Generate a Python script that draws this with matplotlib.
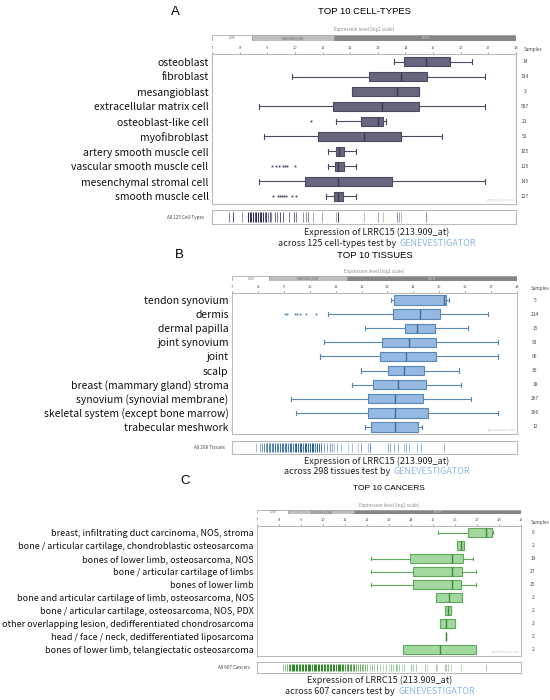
import matplotlib.pyplot as plt
from matplotlib.colors import to_rgba
from matplotlib.transforms import blended_transform_factory

plt.rcParams['font.family'] = ['Noto Sans CJK SC', 'DejaVu Sans']
HEAD = ['Liberation Sans', 'DejaVu Sans']

W, H = 550, 700
LOW_END, MED_END = 8.43, 11.43

# ---------- A: cell types ----------
cell_labels = ['osteoblast', 'fibroblast', 'mesangioblast', 'extracellular matrix cell',
               'osteoblast-like cell', 'myofibroblast', 'artery smooth muscle cell',
               'vascular smooth muscle cell', 'mesenchymal stromal cell', 'smooth muscle cell']
cell_n = [14, 314, 3, 587, 21, 52, 105, 115, 145, 127]
cell_lo = [13.59, 9.90, 12.05, 8.70, 11.50, 8.89, 11.20, 11.20, 8.70, 11.14]
cell_q1 = [13.94, 12.68, 12.05, 11.38, 12.38, 10.82, 11.48, 11.46, 10.38, 11.40]
cell_med = [14.76, 13.83, 13.71, 13.16, 13.02, 12.50, 11.60, 11.55, 11.56, 11.56]
cell_q3 = [15.62, 14.79, 14.50, 14.50, 13.18, 13.83, 11.76, 11.76, 13.51, 11.74]
cell_hi = [16.42, 16.88, 14.50, 16.88, 13.28, 15.34, 12.22, 12.21, 16.88, 12.22]
cell_out = [[], [], [], [], [10.58], [], [],
            [9.18, 9.30, 9.42, 9.57, 9.64, 9.71, 10.02], [],
            [9.21, 9.40, 9.47, 9.54, 9.61, 9.68, 9.91, 10.03]]
cell_strip = [7.62, 7.76, 8.09, 8.30, 8.36, 8.42, 8.48, 8.54, 8.60, 8.66, 8.72, 8.79, 8.85,
              8.91, 8.97, 9.03, 9.10, 9.15, 9.27, 9.35, 9.45, 9.57, 9.79, 9.96, 10.05, 10.29,
              10.41, 10.47, 10.65, 10.99, 11.50, 11.56, 12.50, 13.01, 13.18, 13.71, 13.77,
              13.83, 14.73]
cell_strip_w = [0.6, 0.8, 0.5, 1, 1, 0.9, 1, 0.8, 1, 1, 0.9, 1, 1,
                0.7, 0.9, 0.6, 0.8, 0.5, 0.7, 0.6, 0.8, 0.7, 0.6, 0.7, 0.6, 0.5,
                0.5, 0.6, 0.4, 0.4, 0.4, 0.9, 0.3, 0.4, 0.3, 0.5, 0.4,
                0.3, 0.5]

# ---------- B: tissues ----------
tis_labels = ['tendon synovium', 'dermis', 'dermal papilla', 'joint synovium', 'joint', 'scalp',
              'breast (mammary gland) stroma', 'synovium (synovial membrane)',
              'skeletal system (except bone marrow)', 'trabecular meshwork']
tis_n = [5, 214, 15, 93, 96, 36, 18, 267, 166, 12]
tis_lo = [13.14, 10.70, 12.12, 10.57, 10.38, 11.96, 11.63, 9.26, 9.46, 12.15]
tis_q1 = [13.25, 13.23, 13.66, 12.78, 12.72, 13.04, 12.45, 12.26, 12.26, 12.35]
tis_med = [15.20, 14.27, 14.15, 13.83, 13.72, 13.63, 13.41, 13.30, 13.30, 13.29]
tis_q3 = [15.25, 15.01, 14.84, 14.88, 14.88, 14.40, 14.47, 14.39, 14.57, 14.19]
tis_hi = [15.37, 16.90, 16.10, 17.26, 17.26, 15.78, 15.84, 16.23, 17.26, 14.33]
tis_out = [[], [9.03, 9.12, 9.44, 9.52, 9.61, 9.87, 10.26], [], [], [], [], [], [], [], []]
tis_strip = [7.94, 8.07, 8.16, 8.24, 8.30, 8.36, 8.42, 8.48, 8.55, 8.60, 8.66, 8.72, 8.78, 8.85,
             8.92, 8.98, 9.04, 9.10, 9.16, 9.22, 9.28, 9.35, 9.42, 9.48, 9.55, 9.61, 9.67, 9.74,
             9.80, 9.86, 9.93, 10.00, 10.07, 10.14, 10.21, 10.28, 10.36, 10.43, 10.57, 10.68,
             10.77, 10.86, 10.93, 11.06, 11.22, 11.47, 11.64, 11.86, 11.99, 12.24, 12.31, 13.02,
             13.08, 13.25, 13.40, 13.63, 13.72, 13.83, 14.15, 14.28, 15.20]
tis_strip_w = [0.4, 0.5, 0.6, 0.7, 0.6, 0.8, 0.7, 0.8, 0.7, 0.8, 0.9, 0.7, 0.8, 0.9,
               0.8, 0.9, 0.8, 0.9, 0.8, 0.9, 0.9, 0.8, 0.9, 1, 0.9, 1, 1, 0.9,
               1, 1, 1, 1, 1, 1, 0.9, 1, 0.9, 0.8, 0.6, 0.5,
               0.6, 0.5, 0.4, 0.5, 0.4, 0.3, 0.4, 0.3, 0.5, 0.4, 0.7, 0.5,
               0.5, 0.5, 0.5, 0.4, 0.5, 0.4, 0.4, 0.5, 0.4]

# ---------- C: cancers ----------
can_labels = ['breast, infiltrating duct carcinoma, NOS, stroma',
              'bone / articular cartilage, chondroblastic osteosarcoma',
              'bones of lower limb, osteosarcoma, NOS',
              'bone / articular cartilage of limbs', 'bones of lower limb',
              'bone and articular cartilage of limb, osteosarcoma, NOS',
              'bone / articular cartilage, osteosarcoma, NOS, PDX',
              'other overlapping lesion, dedifferentiated chondrosarcoma',
              'head / face / neck, dedifferentiated liposarcoma',
              'bones of lower limb, telangiectatic osteosarcoma']
can_n = [6, 2, 19, 27, 25, 2, 2, 2, 2, 2]
can_lo = [15.24, 16.10, 12.16, 12.16, 12.16, 15.12, 15.54, 15.30, 15.57, 13.65]
can_q1 = [16.58, 16.10, 13.95, 14.10, 14.10, 15.12, 15.54, 15.30, 15.57, 13.65]
can_med = [17.41, 16.26, 15.85, 15.85, 15.85, 15.73, 15.66, 15.60, 15.57, 15.30]
can_q3 = [17.67, 16.39, 16.36, 16.33, 16.27, 16.32, 15.80, 15.98, 15.57, 16.94]
can_hi = [17.73, 16.39, 16.82, 16.94, 16.94, 16.32, 15.80, 15.98, 15.57, 16.94]
can_out = [[] for _ in can_labels]
can_strip = [8.17, 8.26, 8.37, 8.44, 8.50, 8.57, 8.63, 8.70, 8.76, 8.83, 8.90, 8.96, 9.03, 9.10,
             9.16, 9.23, 9.30, 9.36, 9.43, 9.50, 9.57, 9.63, 9.70, 9.77, 9.84, 9.90, 9.97, 10.04,
             10.11, 10.18, 10.24, 10.31, 10.38, 10.45, 10.52, 10.59, 10.66, 10.72, 10.79, 10.86,
             10.93, 11.00, 11.07, 11.14, 11.21, 11.28, 11.35, 11.42, 11.50, 11.58, 11.66, 11.75,
             11.84, 11.92, 12.02, 12.12, 12.22, 12.34, 12.46, 12.58, 12.72, 12.86, 13.00, 13.07,
             13.19, 13.30, 13.37, 13.45, 13.57, 13.68, 13.98, 14.09, 14.21, 14.63, 14.74, 15.12,
             15.19, 15.54, 15.60, 15.69, 15.80, 16.26, 17.39]
can_strip_w = [0.4, 0.5, 0.6, 0.8, 0.9, 1, 1, 1, 1, 1, 1, 1, 1, 1,
               1, 1, 1, 1, 1, 1, 1, 1, 1, 1, 1, 1, 1, 1,
               1, 1, 1, 1, 1, 1, 1, 1, 1, 0.9, 1, 0.9,
               0.9, 0.9, 0.8, 0.9, 0.8, 0.8, 0.7, 0.8, 0.7, 0.6, 0.7, 0.6,
               0.5, 0.6, 0.5, 0.4, 0.5, 0.4, 0.5, 0.4, 0.3, 0.4, 0.3, 0.5,
               0.4, 0.5, 0.4, 0.4, 0.3, 0.4, 0.5, 0.4, 0.4, 0.4, 0.3, 0.4,
               0.3, 0.4, 0.4, 0.4, 0.3, 0.3, 0.4]

fig = plt.figure(figsize=(5.5, 7), dpi=100)
renderer = fig.canvas.get_renderer()


def px_axes(x0, y0, x1, y1):
    return fig.add_axes([x0 / W, 1 - y1 / H, (x1 - x0) / W, (y1 - y0) / H])


def two_tone(cx, y, a, b, size=6.5):
    t1 = fig.text(0, 0, a, fontsize=size, color='#222222', va='center')
    t2 = fig.text(0, 0, b, fontsize=size, color='#8fb6e0', va='center')
    w1 = t1.get_window_extent(renderer).width
    w2 = t2.get_window_extent(renderer).width
    gap = 3
    x0 = cx - (w1 + gap + w2) / 2
    t1.set_position((x0 / W, 1 - y / H))
    t2.set_position(((x0 + w1 + gap) / W, 1 - y / H))


def panel(box, bar, strip, xmax, labels, n, lo, q1, med, q3, hi, out,
          face, edge, dark, svals, sw, scol, sname, lsize, nx, hx, hha):
    ax = px_axes(*box)
    stats = [dict(whislo=lo[i], q1=q1[i], med=med[i], q3=q3[i], whishi=hi[i], fliers=out[i])
             for i in range(len(labels))]
    ax.bxp(stats, positions=range(len(labels)), orientation='horizontal', widths=0.66,
           patch_artist=True, capwidths=0.3,
           boxprops=dict(facecolor=face, edgecolor=edge, linewidth=0.8),
           medianprops=dict(color=dark, linewidth=1.0),
           whiskerprops=dict(color=edge, linewidth=0.8),
           capprops=dict(color=edge, linewidth=0.8),
           flierprops=dict(marker='s', markersize=1.3, markerfacecolor=edge,
                           markeredgecolor='none'))
    ax.set_xlim(7, xmax)
    ax.set_ylim(9.5, -0.5)
    ax.set_yticks(range(len(labels)), labels, fontsize=lsize, color='#111111')
    ax.tick_params(axis='y', length=0, pad=2.5)
    ax.xaxis.tick_top()
    ax.set_xticks(range(7, xmax + 1))
    ax.tick_params(axis='x', labelsize=3, length=1.5, width=0.4, pad=1.5,
                   colors='#555555')
    for s in ax.spines.values():
        s.set_color('#bbbbbb')
        s.set_linewidth(0.8)
    ax.text(0.997, 0.012, 'genevestigator.com', transform=ax.transAxes, ha='right',
            va='bottom', fontsize=2.2, color='#c8c8c8')
    tr = blended_transform_factory(fig.transFigure, ax.transData)
    for i, v in enumerate(n):
        ax.text(nx / W, i, str(v), transform=tr, ha='center', va='center',
                fontsize=3.5, color='#444444')
    tr2 = blended_transform_factory(fig.transFigure, ax.transAxes)
    ax.text(hx / W, 1.03, 'Samples', transform=tr2, ha=hha, va='center',
            fontsize=3.4, color='#444444')

    cb = px_axes(*bar)
    segs = [(7, LOW_END, 'white', 'LOW', '#777777'),
            (LOW_END, MED_END, '#bebebe', 'MEDIUM (IQR)', '#666666'),
            (MED_END, xmax, '#858585', 'HIGH', '#dddddd')]
    for a, b, c, t, tc in segs:
        cb.barh(0, b - a, left=a, height=1, color=c, edgecolor='#9a9a9a', linewidth=0.5)
        cb.text((a + b) / 2, 0, t, ha='center', va='center', fontsize=2.3, color=tc)
    cb.set_xlim(7, xmax)
    cb.set_ylim(-0.5, 0.5)
    cb.axis('off')
    cb.text(0.5, 1.5, 'Expression level (log2 scale)', transform=cb.transAxes,
            ha='center', va='bottom', fontsize=3.4, color='#888888')

    st = px_axes(*strip)
    st.vlines(svals, 0.14, 0.86, colors=[to_rgba(scol, w) for w in sw], linewidth=0.75)
    st.set_xlim(7, xmax)
    st.set_ylim(0, 1)
    st.set_xticks([])
    st.set_yticks([])
    for s in st.spines.values():
        s.set_color('#bbbbbb')
        s.set_linewidth(0.8)
    st.text(-0.025, 0.5, sname, transform=st.transAxes, ha='right', va='center',
            fontsize=3.3, color='#444444')


# A
fig.text(175 / W, 1 - 12 / H, 'A', fontsize=9.5, ha='center', va='center', family=HEAD)
fig.text(364 / W, 1 - 12 / H, 'TOP 10 CELL-TYPES', fontsize=6.8, ha='center', va='center',
         family=HEAD)
panel((212, 54, 516, 204), (212, 35, 516, 41), (212, 210, 516, 224), 18,
      cell_labels, cell_n, cell_lo, cell_q1, cell_med, cell_q3, cell_hi, cell_out,
      '#66667f', '#4a4a64', '#3a3a55', cell_strip, cell_strip_w, '#2e2e5c',
      'All 125 Cell-Types', 7.5, 525, 524, 'left')
fig.text(377 / W, 1 - 232 / H, 'Expression of LRRC15 (213.909_at)', fontsize=6.5,
         ha='center', va='center', color='#222222')
two_tone(377, 243, 'across 125 cell-types test by', 'GENEVESTIGATOR')

# B
fig.text(179 / W, 1 - 255 / H, 'B', fontsize=9.5, ha='center', va='center', family=HEAD)
fig.text(375 / W, 1 - 255 / H, 'TOP 10 TISSUES', fontsize=6.8, ha='center', va='center',
         family=HEAD)
panel((232, 293, 517, 434), (232, 276, 517, 281), (232, 441, 517, 454), 18,
      tis_labels, tis_n, tis_lo, tis_q1, tis_med, tis_q3, tis_hi, tis_out,
      '#95b9e1', '#5a86b8', '#3f6c9e', tis_strip, tis_strip_w, '#2a64a4',
      'All 298 Tissues', 7.5, 535, 549, 'right')
fig.text(377 / W, 1 - 461 / H, 'Expression of LRRC15 (213.909_at)', fontsize=6.5,
         ha='center', va='center', color='#222222')
two_tone(377, 472, 'across 298 tissues test by', 'GENEVESTIGATOR')

# C
fig.text(185 / W, 1 - 481 / H, 'C', fontsize=9.5, ha='center', va='center', family=HEAD)
fig.text(389 / W, 1 - 489 / H, 'TOP 10 CANCERS', fontsize=6, ha='center', va='center',
         family=HEAD)
panel((257, 526, 521, 656), (257, 510, 521, 514), (257, 662, 521, 673), 19,
      can_labels, can_n, can_lo, can_q1, can_med, can_q3, can_hi, can_out,
      '#a3d89f', '#5faa5a', '#3e8a3a', can_strip, can_strip_w, '#2f8a2a',
      'All 607 Cancers', 6.5, 533, 549, 'right')
fig.text(380 / W, 1 - 680 / H, 'Expression of LRRC15 (213.909_at)', fontsize=6.5,
         ha='center', va='center', color='#222222')
two_tone(380, 691, 'across 607 cancers test by', 'GENEVESTIGATOR')

fig.savefig('out.png', dpi=100)
